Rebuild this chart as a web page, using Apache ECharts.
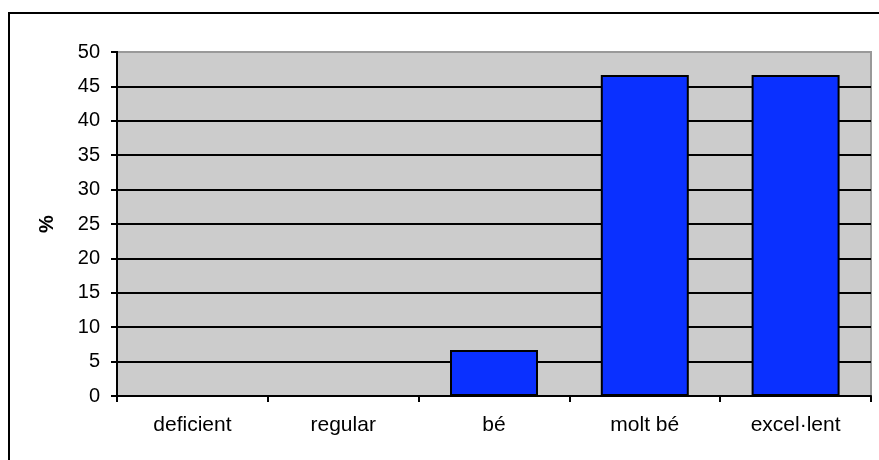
<!DOCTYPE html>
<html>
<head>
<meta charset="utf-8">
<script src="https://cdn.jsdelivr.net/npm/echarts@6/dist/echarts.min.js"></script>
<style>
  html, body { margin: 0; padding: 0; background: #fff; }
  #main { width: 879px; height: 460px; }
</style>
</head>
<body>
<div id="main"></div>
<script>
var categories = ['deficient', 'regular', 'bé', 'molt bé', 'excel·lent'];
var percentages = [0, 0, 6.67, 46.67, 46.67];
var yTicks = [0, 50, 5];

var plotLeft = 117, plotTop = 52, plotW = 754, plotH = 344;

var myChart = echarts.init(document.getElementById('main'));
var option = {
    animation: false,
    textStyle: { fontFamily: 'Liberation Sans, Arial, sans-serif' },
    graphic: [{
        type: 'rect',
        shape: { x: 9, y: 13, width: 900, height: 500 },
        style: { fill: 'none', stroke: '#000', lineWidth: 2 },
        z: -1
    }, {
        // Excel draws the plot frame in grey over the top gridline
        type: 'line',
        shape: { x1: plotLeft + 1, y1: plotTop, x2: plotLeft + plotW, y2: plotTop },
        style: { stroke: '#999', lineWidth: 2 },
        z: 100
    }],
    grid: {
        left: plotLeft, top: plotTop, width: plotW, height: plotH,
        show: true,
        backgroundColor: '#cccccc',
        borderColor: '#999',
        borderWidth: 2
    },
    xAxis: {
        type: 'category',
        data: categories,
        axisLine: { lineStyle: { color: '#000', width: 2 } },
        axisTick: { show: true, length: 6, lineStyle: { color: '#000', width: 2 } },
        axisLabel: { color: '#000', fontSize: 21, margin: 19 }
    },
    yAxis: {
        type: 'value',
        min: yTicks[0], max: yTicks[1], interval: yTicks[2],
        name: '%',
        nameLocation: 'middle',
        nameRotate: 90,
        nameGap: 60,
        nameTextStyle: { color: '#000', fontSize: 20, fontWeight: 'bold' },
        axisLine: { show: true, lineStyle: { color: '#000', width: 2 } },
        axisTick: { show: true, length: 6, lineStyle: { color: '#000', width: 2 } },
        axisLabel: { color: '#000', fontSize: 20, margin: 17 },
        splitLine: { lineStyle: { color: '#000', width: 2 } }
    },
    series: [{
        type: 'bar',
        data: percentages,
        barWidth: 88,
        itemStyle: { color: '#0a30ff', borderColor: '#000', borderWidth: 2 }
    }]
};
myChart.setOption(option);
</script>
</body>
</html>
